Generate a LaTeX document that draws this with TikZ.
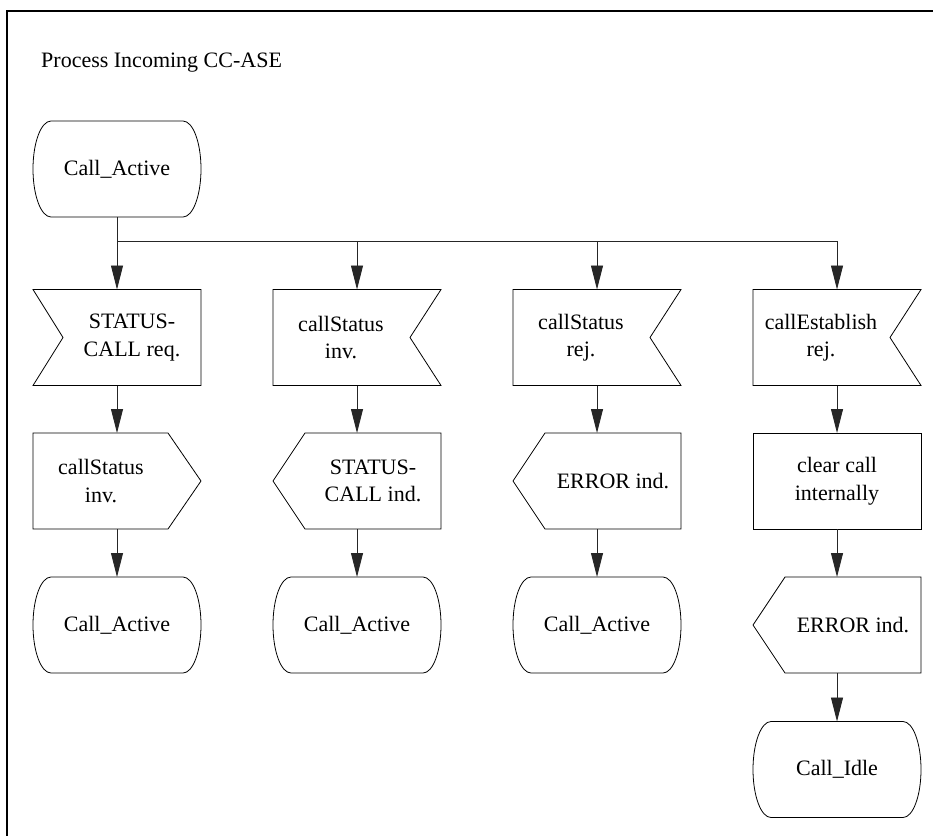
\documentclass[tikz,border=0pt]{standalone}
\usepackage{fontspec}
\setmainfont{Liberation Serif}
\usetikzlibrary{arrows.meta,calc}

% outline of a received signal (notch on the left)
\newcommand\sdlInLeft[1]{%
  \draw[outline] (#1.north west) -- (#1.north east) -- (#1.south east)
    -- (#1.south west) -- ($(#1.west)+(30,0)$) -- cycle;}
% outline of a received signal (notch on the right)
\newcommand\sdlInRight[1]{%
  \draw[outline] (#1.north west) -- (#1.north east) -- ($(#1.east)+(-31,0)$)
    -- (#1.south east) -- (#1.south west) -- cycle;}
% outline of a sent signal (point on the right)
\newcommand\sdlOutRight[1]{%
  \draw[outline] (#1.north west) -- ($(#1.north east)+(-33,0)$) -- (#1.east)
    -- ($(#1.south east)+(-33,0)$) -- (#1.south west) -- cycle;}
% outline of a sent signal (point on the left)
\newcommand\sdlOutLeft[1]{%
  \draw[outline] ($(#1.north west)+(32,0)$) -- (#1.north east) -- (#1.south east)
    -- ($(#1.south west)+(32,0)$) -- (#1.west) -- cycle;}
% outline of a state symbol
\newcommand\sdlState[1]{%
  \draw[outline] ($(#1.north west)+(18,0)$) -- ($(#1.north east)+(-18,0)$)
    arc[start angle=90, end angle=-90, x radius=18, y radius=48]
    -- ($(#1.south west)+(18,0)$)
    arc[start angle=270, end angle=90, x radius=18, y radius=48] -- cycle;}

\begin{document}
\begin{tikzpicture}[x=1pt, y=1pt,
  symbol/.style={rectangle, minimum width=168pt, minimum height=96pt,
    inner sep=0pt, outer sep=0pt},
  label text/.style={align=center, inner sep=0pt,
    font=\fontsize{22}{27.5}\selectfont},
  outline/.style={draw=black, line width=0.8pt, line join=miter},
  flow/.style={draw=black!85, line width=0.9pt},
  arrow/.style={flow, -{Triangle[length=24pt, width=12pt]}}]

\clip (0,0) rectangle (933,-835);
\fill[white] (0,0) rectangle (933,-835);

% frame of the process
\draw[line width=2.2pt] (7,-850) -- (7,-11) -- (950,-11);
\node[anchor=base west, font=\fontsize{22}{27}\selectfont, inner sep=0pt]
  (title) at (41,-67) {Process Incoming CC-ASE};

% start state
\node[symbol] (ca) at (117,-169) {};
\sdlState{ca}
\node[label text] (catext) at (117,-169) {Call\_Active};

% branch points on the bus
\coordinate (bus1) at (117,-241);
\coordinate (bus2) at (357,-241);
\coordinate (bus3) at (597,-241);
\coordinate (bus4) at (837,-241);

% received signals
\node[symbol] (in1) at (117,-337.5) {};
\sdlInLeft{in1}
\node[label text] (in1text) at (132,-337.5) {STATUS-\\CALL req.};

\node[symbol] (in2) at (357,-337.5) {};
\sdlInRight{in2}
\node[label text] (in2text) at (341,-337.5) {callStatus\\inv.};

\node[symbol] (in3) at (597,-337.5) {};
\sdlInRight{in3}
\node[label text] (in3text) at (581,-337.5) {callStatus\\rej.};

\node[symbol] (in4) at (837,-337.5) {};
\sdlInRight{in4}
\node[label text] (in4text) at (821,-337.5) {callEstablish\\rej.};

% second row: outputs and task
\node[symbol] (out1) at (117,-481) {};
\sdlOutRight{out1}
\node[label text] (out1text) at (101,-481) {callStatus\\inv.};

\node[symbol] (out2) at (357,-481) {};
\sdlOutLeft{out2}
\node[label text] (out2text) at (373,-481) {STATUS-\\CALL ind.};

\node[symbol] (out3) at (597,-481) {};
\sdlOutLeft{out3}
\node[label text] (out3text) at (613,-481) {ERROR ind.};

\node[symbol, draw, line width=0.8pt] (task4) at (837,-481) {};
\node[label text] (task4text) at (837,-481) {clear call\\internally};

% third row
\node[symbol] (st1) at (117,-625) {};
\sdlState{st1}
\node[label text] (st1text) at (117,-625) {Call\_Active};

\node[symbol] (st2) at (357,-625) {};
\sdlState{st2}
\node[label text] (st2text) at (357,-625) {Call\_Active};

\node[symbol] (st3) at (597,-625) {};
\sdlState{st3}
\node[label text] (st3text) at (597,-625) {Call\_Active};

\node[symbol] (out4) at (837,-625) {};
\sdlOutLeft{out4}
\node[label text] (out4text) at (853,-625) {ERROR ind.};

% final state of the last branch
\node[symbol] (st4) at (837,-769.5) {};
\sdlState{st4}
\node[label text] (st4text) at (837,-769.5) {Call\_Idle};

% connectors
\draw[flow] (ca.south) -- (bus1) -- (bus4);
\draw[arrow] (bus1) -- (in1.north);
\draw[arrow] (bus2) -- (in2.north);
\draw[arrow] (bus3) -- (in3.north);
\draw[arrow] (bus4) -- (in4.north);

\draw[arrow] (in1.south) -- (out1.north);
\draw[arrow] (in2.south) -- (out2.north);
\draw[arrow] (in3.south) -- (out3.north);
\draw[arrow] (in4.south) -- (task4.north);

\draw[arrow] (out1.south) -- (st1.north);
\draw[arrow] (out2.south) -- (st2.north);
\draw[arrow] (out3.south) -- (st3.north);
\draw[arrow] (task4.south) -- (out4.north);
\draw[arrow] (out4.south) -- (st4.north);
\end{tikzpicture}
\end{document}
